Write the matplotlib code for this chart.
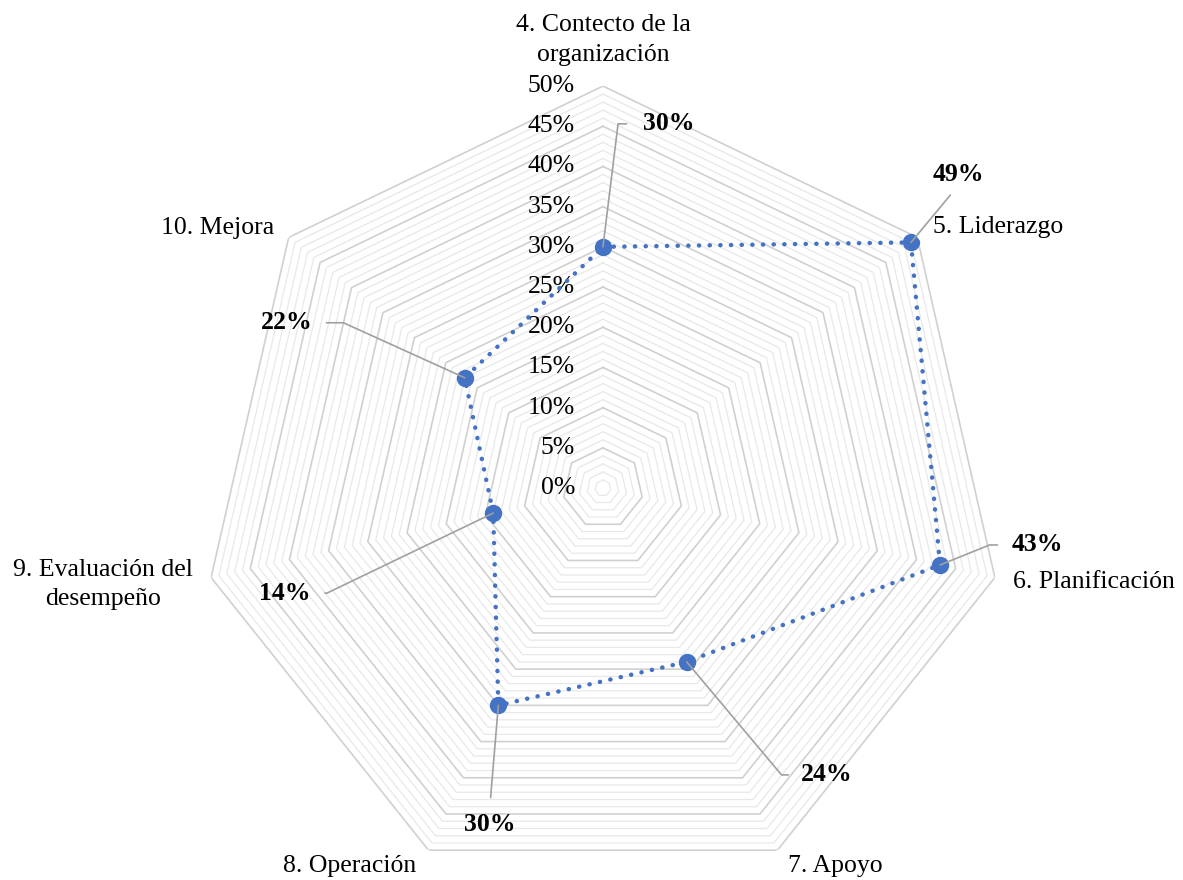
import numpy as np
import matplotlib
matplotlib.use("Agg")
import matplotlib.pyplot as plt

plt.rcParams['font.family'] = ['Liberation Serif', 'DejaVu Serif']

categories = ["4. Contecto de la\norganización", "5. Liderazgo", "6. Planificación",
              "7. Apoyo", "8. Operación", "9. Evaluación del\ndesempeño", "10. Mejora"]
values = [30, 49, 43, 24, 30, 14, 22]   # percent
r_ticks = [0, 5, 10, 15, 20, 25, 30, 35, 40, 45, 50]

BLUE = '#4472C4'
LEADER = '#a0a0a0'
FS = 18.5

n = len(categories)
theta = np.arange(n) * 2 * np.pi / n
theta_c = np.append(theta, theta[0])

fig = plt.figure(figsize=(11.83, 8.80), dpi=100)
ax = fig.add_axes([0.1699, -0.0114, 0.6796, 0.9136], projection='polar')
ax.set_theta_offset(np.pi / 2)
ax.set_theta_direction(-1)
ax.set_ylim(0, 0.5)
ax.grid(False)
ax.set_xticks([])
ax.set_yticks([])
ax.spines['polar'].set_visible(False)
ax.patch.set_visible(False)

# polygon gridlines: minor each 1%, major each 5%
for k in range(1, 51):
    r = k / 100
    if k % 5 == 0:
        ax.plot(theta_c, [r] * (n + 1), color='#d0d0d0', lw=1.2, zorder=2)
    else:
        ax.plot(theta_c, [r] * (n + 1), color='#e8e8e8', lw=0.9, zorder=1)

# radial tick labels
for t in r_ticks:
    ax.annotate(f"{t}%", xy=(0, t / 100), xytext=(-28, 0), textcoords='offset pixels',
                ha='right', va='center', fontsize=FS, color='black')

# series
vals = np.array(values) / 100
ax.plot(theta_c, np.append(vals, vals[0]), color=BLUE, lw=3.2,
        dashes=(0.05, 2.35), dash_capstyle='round', zorder=5)
ax.plot(theta, vals, 'o', color=BLUE, ms=11.5, zorder=6)

# category labels (offset in pixels from outer vertex)
cat_off = [(0, 46, 'center'), (16, 10, 'left'), (18, -5, 'left'), (58, -16, 'center'),
           (-79, -16, 'center'), (-108, -7, 'center'), (-71, 9, 'center')]
for th, lab, (dx, dy, ha) in zip(theta, categories, cat_off):
    ax.annotate(lab, xy=(th, 0.5), xytext=(dx, dy), textcoords='offset pixels',
                ha=ha, va='center', fontsize=FS, color='black',
                multialignment='center', linespacing=1.45, annotation_clip=False)

# data labels with leader lines: (dx, dy, ha, relpos, connection, shrinkA)
lab_off = [
    (66, 123, 'center', (0, 0.5), "angle,angleA=0,angleB=83,rad=0", 10),
    (47, 68, 'center', (0.5, 0), "arc3,rad=0", 6),
    (97, 20, 'center', (0, 0.5), "angle,angleA=0,angleB=22,rad=0", 8),
    (140, -113, 'center', (0, 0.5), "angle,angleA=0,angleB=-50,rad=0", 7),
    (-9, -119, 'center', (0.5, 1), "arc3,rad=0", 9),
    (-208, -80, 'center', (1, 0.5), "angle,angleA=0,angleB=25.7,rad=0", 8),
    (-178, 55, 'center', (1, 0.5), "angle,angleA=0,angleB=-24.4,rad=0", 8),
]
for th, v, (dx, dy, ha, rp, cs, sa) in zip(theta, values, lab_off):
    ax.annotate(f"{v}%", xy=(th, v / 100), xytext=(dx, dy), textcoords='offset pixels',
                ha=ha, va='center', fontsize=FS, fontweight='bold', color='black',
                annotation_clip=False, zorder=7,
                arrowprops=dict(arrowstyle='-', color=LEADER, lw=1.2, relpos=rp,
                                connectionstyle=cs, shrinkA=sa, shrinkB=0))

fig.savefig("out.png", dpi=100, facecolor='white')
